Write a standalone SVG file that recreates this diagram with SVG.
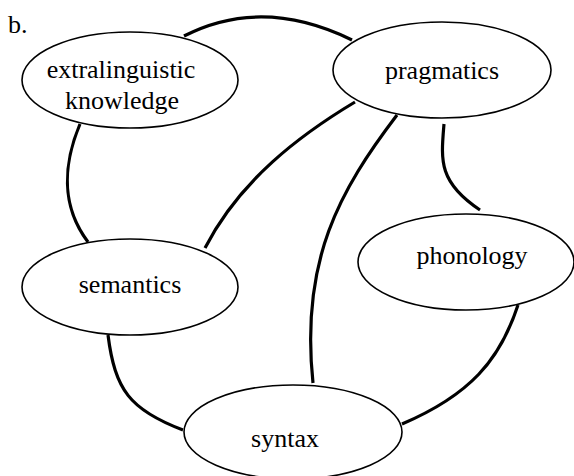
<svg xmlns="http://www.w3.org/2000/svg" width="574" height="476" viewBox="0 0 574 476">
<style>
.node ellipse{fill:#fff;stroke:#000;stroke-width:1.6}
.node text,.lbl{font-size:26px;fill:#000;text-anchor:middle}
.edges path{fill:none;stroke:#000;stroke-width:3.2;stroke-linecap:butt}
</style>
<rect width="574" height="476" fill="#fff"/>
<g font-family="'Liberation Serif', 'DejaVu Serif', serif">
<text class="lbl" x="8" y="33" style="text-anchor:start">b.</text>
<g class="edges">
<path d="M184,36 Q262,-4 352,40"/>
<path d="M80,124 C64,162 60,205 88,242"/>
<path d="M355,102 C300,135 240,180 205,248"/>
<path d="M397,115 C340,190 300,260 313,383"/>
<path d="M444,124 C441,160 438,182 480,210"/>
<path d="M108,335 C115,390 130,410 183,430"/>
<path d="M518,305 C500,360 470,395 402,424"/>
</g>
<g id="extralinguistic" class="node">
<ellipse cx="130" cy="80" rx="108" ry="48"/>
<text x="121" y="78">extralinguistic</text>
<text x="122" y="109">knowledge</text>
</g>
<g id="pragmatics" class="node">
<ellipse cx="442" cy="70" rx="109" ry="48"/>
<text x="442" y="79">pragmatics</text>
</g>
<g id="semantics" class="node">
<ellipse cx="130" cy="287" rx="108" ry="48"/>
<text x="130" y="293">semantics</text>
</g>
<g id="phonology" class="node">
<ellipse cx="466" cy="262" rx="108" ry="48"/>
<text x="472" y="264">phonology</text>
</g>
<g id="syntax" class="node">
<ellipse cx="293" cy="432" rx="109" ry="47"/>
<text x="285" y="447">syntax</text>
</g>
</g>
</svg>
